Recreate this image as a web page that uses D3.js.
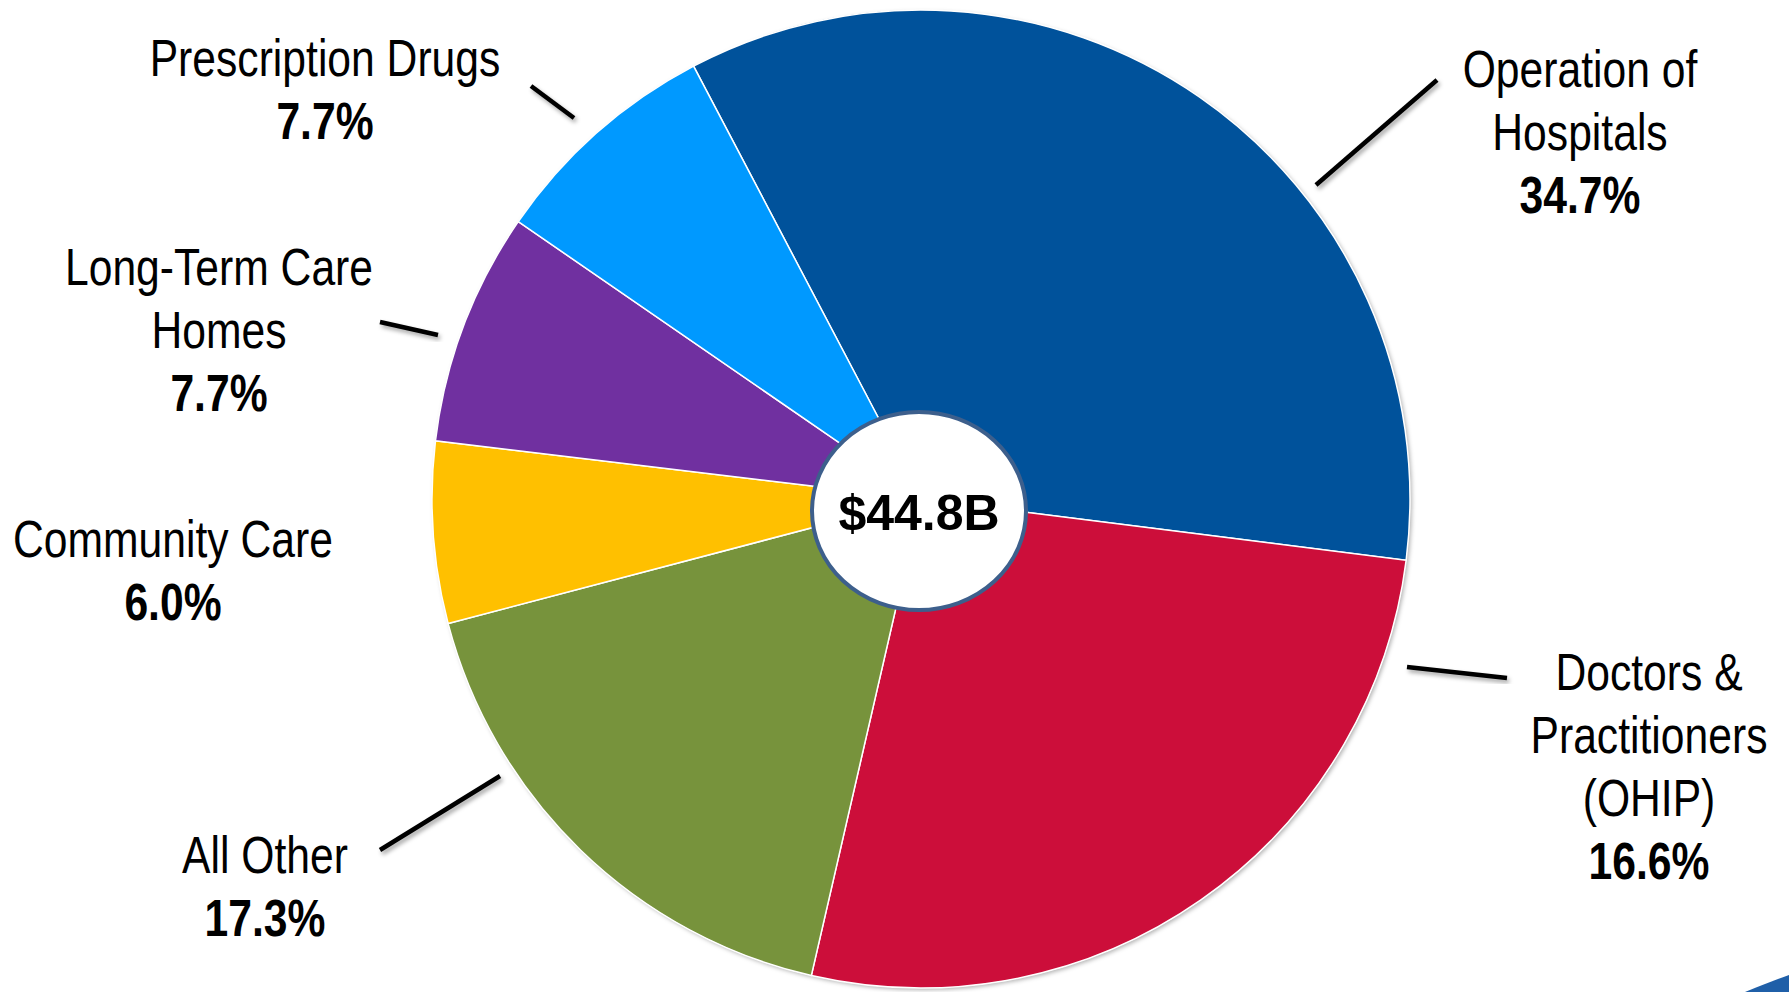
<!DOCTYPE html>
<html>
<head>
<meta charset="utf-8">
<script src="https://cdn.jsdelivr.net/npm/d3@7"></script>
<style>
  body { margin: 0; background: #fff; }
  svg text { font-family: "Liberation Sans", Arial, sans-serif; fill: #000; }
</style>
</head>
<body>
<div id="chart"></div>
<script>
const categories = ["Operation of Hospitals", "Doctors & Practitioners (OHIP)", "All Other", "Community Care", "Long-Term Care Homes", "Prescription Drugs"];
const shares = [34.7, 26.6, 17.3, 6.0, 7.7, 7.7];
const shownLabels = ["34.7%", "16.6%", "17.3%", "6.0%", "7.7%", "7.7%"];
const colors = ["#00529b", "#cc0e3a", "#77933c", "#ffc000", "#7030a0", "#0099ff"];
const totalLabel = "$44.8B";

const width = 1789, height = 992;
const cx = 921, cy = 499, radius = 489;

// label placement, one entry per category
const labelLayout = [
    { x: 1580, y: 87, lines: ["Operation of", "Hospitals"], leader: [[1316, 185], [1437, 80]] },
    { x: 1649, y: 690, lines: ["Doctors &", "Practitioners", "(OHIP)"], leader: [[1407, 667], [1507, 678]] },
    { x: 265, y: 873, lines: ["All Other"], leader: [[380, 850], [500, 776]] },
    { x: 173, y: 557, lines: ["Community Care"], leader: [[361, 534], [419, 534]] },
    { x: 219, y: 285, lines: ["Long-Term Care", "Homes"], leader: [[380, 322], [438, 335]] },
    { x: 325, y: 76, lines: ["Prescription Drugs"], leader: [[531, 86], [574, 118]] }
];
const lineHeight = 63;
const narrow = 0.82; // no narrow face installed, so squeeze the regular one

const svg = d3.select("#chart").append("svg")
    .attr("width", width)
    .attr("height", height);

const defs = svg.append("defs");
const pieShadow = defs.append("filter").attr("id", "pieShadow")
    .attr("x", "-10%").attr("y", "-10%").attr("width", "120%").attr("height", "120%");
pieShadow.append("feDropShadow")
    .attr("dx", 2).attr("dy", 2).attr("stdDeviation", 2)
    .attr("flood-color", "#000").attr("flood-opacity", 0.3);

const lineShadow = defs.append("filter").attr("id", "lineShadow")
    .attr("x", "-20%").attr("y", "-50%").attr("width", "140%").attr("height", "200%");
lineShadow.append("feDropShadow")
    .attr("dx", 2).attr("dy", 3).attr("stdDeviation", 2)
    .attr("flood-color", "#000").attr("flood-opacity", 0.35);

const startAngle = -2 * Math.PI * shares[5] / 100;
const pie = d3.pie().sort(null).value(d => d)
    .startAngle(startAngle)
    .endAngle(startAngle + 2 * Math.PI);
const arc = d3.arc().innerRadius(0).outerRadius(radius);

const g = svg.append("g").attr("transform", `translate(${cx},${cy})`);

g.append("circle")
    .attr("r", radius)
    .attr("fill", "#fff")
    .attr("filter", "url(#pieShadow)");

g.selectAll("path.slice")
    .data(pie(shares))
    .enter().append("path")
    .attr("class", "slice")
    .attr("d", arc)
    .attr("fill", (d, i) => colors[i])
    .attr("stroke", "#fff")
    .attr("stroke-width", 1.5);

// centre badge
svg.append("ellipse")
    .attr("cx", 919).attr("cy", 511)
    .attr("rx", 107).attr("ry", 99)
    .attr("fill", "#fff")
    .attr("stroke", "#3d5f8c")
    .attr("stroke-width", 4);

svg.append("text")
    .attr("x", 919).attr("y", 530)
    .attr("text-anchor", "middle")
    .style("font-weight", "bold")
    .style("font-size", "50px")
    .text(totalLabel);

// leader lines
svg.selectAll("line.leader")
    .data(labelLayout)
    .enter().append("line")
    .attr("class", "leader")
    .attr("x1", d => d.leader[0][0]).attr("y1", d => d.leader[0][1])
    .attr("x2", d => d.leader[1][0]).attr("y2", d => d.leader[1][1])
    .attr("stroke", "#000")
    .attr("stroke-width", 4.5)
    .attr("filter", "url(#lineShadow)");

// labels
const labels = svg.selectAll("g.label")
    .data(labelLayout)
    .enter().append("g")
    .attr("class", "label")
    .attr("transform", d => `translate(${d.x},0) scale(${narrow},1)`);

labels.each(function(d, i) {
    const t = d3.select(this).append("text")
        .attr("text-anchor", "middle")
        .style("font-size", "52px");
    d.lines.forEach((line, k) => {
        t.append("tspan")
            .attr("x", 0)
            .attr("y", d.y + k * lineHeight)
            .text(line);
    });
    t.append("tspan")
        .attr("x", 0)
        .attr("y", d.y + d.lines.length * lineHeight)
        .style("font-weight", "bold")
        .text(shownLabels[i]);
});

// corner decoration
svg.append("path")
    .attr("d", "M1745,992 Q1770,982 1789,975 L1789,992 Z")
    .attr("fill", "#1f5fa8");
</script>
</body>
</html>
